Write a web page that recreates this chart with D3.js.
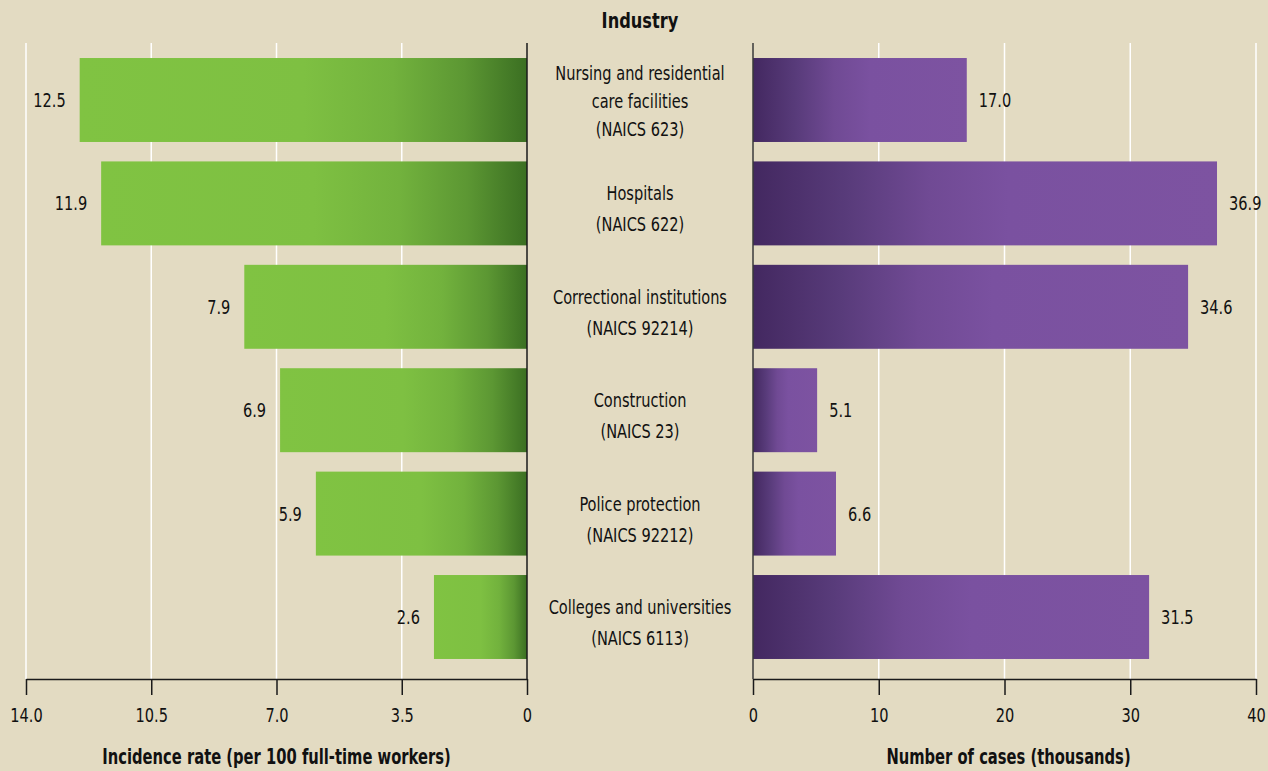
<!DOCTYPE html>
<html>
<head>
<meta charset="utf-8">
<script src="https://cdn.jsdelivr.net/npm/d3@7"></script>
<style>
  html, body { margin: 0; padding: 0; background: #e3dbc2; }
  svg { display: block; }
  text { font-family: "DejaVu Sans Condensed", "Liberation Sans Narrow", sans-serif; fill: #111; }
</style>
</head>
<body>
<div id="chartPlaceholder"></div>
<script>
const industries = [
  ["Nursing and residential", "care facilities", "(NAICS 623)"],
  ["Hospitals", "(NAICS 622)"],
  ["Correctional institutions", "(NAICS 92214)"],
  ["Construction", "(NAICS 23)"],
  ["Police protection", "(NAICS 92212)"],
  ["Colleges and universities", "(NAICS 6113)"],
];
const incidenceRates = [12.5, 11.9, 7.9, 6.9, 5.9, 2.6];
const caseCounts = [17.0, 36.9, 34.6, 5.1, 6.6, 31.5];
const rateTicks = [14, 10.5, 7, 3.5, 0];
const rateTickLabels = ["14.0", "10.5", "7.0", "3.5", "0"];
const caseTicks = [0, 10, 20, 30, 40];

const width = 1268, height = 771;
const axisY = 679, gridTop = 43;
// the original uses a condensed face; squeeze DejaVu Condensed to match
const squeeze = 0.81;

const svg = d3
  .select("#chartPlaceholder")
  .append("svg")
  .attr("width", width)
  .attr("height", height);

svg.append("rect").attr("width", width).attr("height", height).attr("fill", "#e3dbc2");

// gradients for the bars
const defs = svg.append("defs");
const green = defs.append("linearGradient").attr("id", "greenGrad");
[
  ["0%", "#80c342"],
  ["50%", "#7ec042"],
  ["70%", "#72b23d"],
  ["86%", "#5c9733"],
  ["100%", "#3b6f22"],
].forEach(([o, c]) => green.append("stop").attr("offset", o).attr("stop-color", c));
const purple = defs.append("linearGradient").attr("id", "purpleGrad");
[
  ["0%", "#432860"],
  ["20%", "#583b7a"],
  ["38%", "#704a94"],
  ["55%", "#7a51a0"],
  ["100%", "#7d53a1"],
].forEach(([o, c]) => purple.append("stop").attr("offset", o).attr("stop-color", c));

// scales
const y = d3
  .scaleBand()
  .domain(d3.range(industries.length))
  .range([48.3, 668.7])
  .paddingInner(0.188)
  .paddingOuter(0.094);
const xLeft = d3.scaleLinear().domain([0, 14]).range([527, 26]);
const xRight = d3.scaleLinear().domain([0, 40]).range([753, 1256]);

// gridlines
svg
  .append("g")
  .selectAll("line")
  .data(rateTicks.filter((d) => d !== 0))
  .join("line")
  .attr("x1", (d) => xLeft(d))
  .attr("x2", (d) => xLeft(d))
  .attr("y1", gridTop)
  .attr("y2", axisY)
  .attr("stroke", "#fff")
  .attr("stroke-width", 1.5);
svg
  .append("g")
  .selectAll("line")
  .data(caseTicks.filter((d) => d !== 0))
  .join("line")
  .attr("x1", (d) => xRight(d))
  .attr("x2", (d) => xRight(d))
  .attr("y1", gridTop)
  .attr("y2", axisY)
  .attr("stroke", "#fff")
  .attr("stroke-width", 1.5);

// left bars
svg
  .append("g")
  .selectAll("rect")
  .data(incidenceRates)
  .join("rect")
  .attr("x", (d) => xLeft(d))
  .attr("y", (d, i) => y(i))
  .attr("width", (d) => xLeft(0) - xLeft(d))
  .attr("height", y.bandwidth())
  .attr("fill", "url(#greenGrad)");

svg
  .append("g")
  .selectAll("text")
  .data(incidenceRates)
  .join("text")
  .attr("transform", (d, i) => `translate(${xLeft(d) - 14}, ${y(i) + y.bandwidth() / 2}) scale(${squeeze}, 1)`)
  .attr("dy", "0.35em")
  .attr("text-anchor", "end")
  .style("font-size", "20px")
  .text((d) => d.toFixed(1));

// right bars
svg
  .append("g")
  .selectAll("rect")
  .data(caseCounts)
  .join("rect")
  .attr("x", xRight(0))
  .attr("y", (d, i) => y(i))
  .attr("width", (d) => xRight(d) - xRight(0))
  .attr("height", y.bandwidth())
  .attr("fill", "url(#purpleGrad)");

svg
  .append("g")
  .selectAll("text")
  .data(caseCounts)
  .join("text")
  .attr("transform", (d, i) => `translate(${xRight(d) + 12}, ${y(i) + y.bandwidth() / 2}) scale(${squeeze}, 1)`)
  .attr("dy", "0.35em")
  .style("font-size", "20px")
  .text((d) => d.toFixed(1));

// zero lines
svg
  .append("line")
  .attr("x1", xLeft(0)).attr("x2", xLeft(0))
  .attr("y1", gridTop).attr("y2", axisY)
  .attr("stroke", "#1a1a1a").attr("stroke-width", 1.5);
svg
  .append("line")
  .attr("x1", xRight(0)).attr("x2", xRight(0))
  .attr("y1", gridTop).attr("y2", axisY)
  .attr("stroke", "#3a3a3a").attr("stroke-width", 1.5);

// industry labels (two-line labels sit a little below the band centre)
const labels = svg
  .append("g")
  .selectAll("text")
  .data(industries)
  .join("text")
  .attr("transform", `translate(640, 0) scale(${squeeze}, 1)`)
  .attr("text-anchor", "middle")
  .style("font-size", "20px");
labels.each(function (lines, i) {
  const cy = y(i) + y.bandwidth() / 2;
  const gap = lines.length === 3 ? 28 : 31;
  const start = lines.length === 3 ? cy - 27 : cy - 10;
  d3.select(this)
    .selectAll("tspan")
    .data(lines)
    .join("tspan")
    .attr("x", 0)
    .attr("y", (d, j) => start + j * gap)
    .attr("dy", "0.35em")
    .text((d) => d);
});

// axes
const leftAxis = svg
  .append("g")
  .attr("transform", `translate(0, ${axisY})`)
  .call(
    d3.axisBottom(xLeft)
      .tickValues(rateTicks)
      .tickFormat((d, i) => rateTickLabels[i])
      .tickSize(16)
      .tickSizeOuter(0)
      .tickPadding(13)
  );
const rightAxis = svg
  .append("g")
  .attr("transform", `translate(0, ${axisY})`)
  .call(d3.axisBottom(xRight).tickValues(caseTicks).tickSize(16).tickSizeOuter(0).tickPadding(13));

[leftAxis, rightAxis].forEach((g) => {
  g.select(".domain").attr("stroke", "#1a1a1a").attr("stroke-width", 1.5);
  g.selectAll(".tick line").attr("stroke", "#1a1a1a").attr("stroke-width", 1.5);
  g.selectAll(".tick text")
    .attr("transform", `scale(${squeeze}, 1)`)
    .style("font-size", "20px")
    .style("font-family", '"DejaVu Sans Condensed", "Liberation Sans Narrow", sans-serif')
    .attr("fill", "#111");
});

// titles
function boldTitle(x, yPos, size, sx, label) {
  svg
    .append("text")
    .attr("transform", `translate(${x}, ${yPos}) scale(${sx}, 1)`)
    .attr("dy", "0.35em")
    .attr("text-anchor", "middle")
    .style("font-size", size + "px")
    .style("font-weight", "bold")
    .text(label);
}
boldTitle(640, 20, 22, 0.82, "Industry");
boldTitle((xLeft(0) + xLeft(14)) / 2, 757, 21, 0.78, "Incidence rate (per 100 full-time workers)");
boldTitle((xRight(0) + xRight(40)) / 2 + 4, 757, 21, 0.78, "Number of cases (thousands)");
</script>
</body>
</html>
